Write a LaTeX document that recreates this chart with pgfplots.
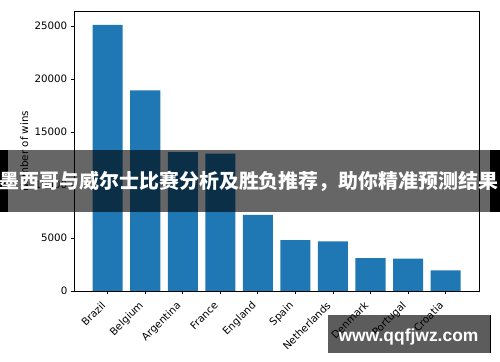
\documentclass[border=0pt]{standalone}
\usepackage{pgfplots}
\pgfplotsset{compat=1.18}
\usepackage{fontspec}
\setmainfont{DejaVu Sans}
\newfontfamily\cjk{Noto Sans CJK SC}
\newfontfamily\wm{Liberation Sans}
\definecolor{mplblue}{RGB}{31,119,180}
\begin{document}
\begin{tikzpicture}
\path[use as bounding box] (0,0) rectangle (500bp,362bp);
\begin{axis}[
  at={(74.3bp,71bp)}, anchor=south west,
  scale only axis, width=404.7bp, height=279.3bp,
  xmin=-0.89, xmax=9.89, ymin=0, ymax=26350,
  xtick={0,1,2,3,4,5,6,7,8,9},
  xticklabels={Brazil,Belgium,Argentina,France,England,Spain,Netherlands,Denmark,Portugal,Croatia},
  xticklabel style={xshift=-7bp, yshift=-6bp, rotate=45, anchor=north east, inner sep=0pt, font=\fontsize{10.3}{12}\selectfont},
  ytick={0,5000,10000,15000,20000,25000},
  scaled y ticks=false,
  yticklabel style={font=\fontsize{10.3}{12}\selectfont, /pgf/number format/1000 sep={}},
  /pgf/number format/assume math mode=true,
  tick align=outside, major tick length=3.5bp,
  tick style={black, line width=0.8bp},
  axis line style={black, line width=0.8bp},
  xtick pos=bottom, ytick pos=left,
  ylabel={Number of wins},
  ylabel style={at={(axis description cs:-0.1236,0.5)}, anchor=center, font=\fontsize{10.3}{12}\selectfont},
]
\addplot[ybar, bar width=0.8, fill=mplblue, draw=none] coordinates {
  (0,25100) (1,18930) (2,13100) (3,12950) (4,7170)
  (5,4810) (6,4690) (7,3110) (8,3050) (9,1950)
};
\end{axis}
% banner overlay
\fill[black, opacity=0.6] (8bp,150bp) rectangle (490bp,212bp);
\fill[black] (0,150bp) rectangle (8bp,212bp);
\fill[black] (490bp,150bp) rectangle (500bp,212bp);
\node[white, inner sep=0pt, font=\cjk\bfseries\fontsize{20}{24}\selectfont] at (249bp,181bp) {墨西哥与威尔士比赛分析及胜负推荐，助你精准预测结果};
% watermark
\fill[black, opacity=0.64] (328bp,9.3bp) rectangle (490.7bp,47bp);
\draw[black, line width=1bp] (490.2bp,9.3bp) -- (490.2bp,47bp);
\node[white, inner sep=0pt, font=\wm\bfseries\fontsize{17.5}{20}\selectfont] at (408.5bp,25.3bp) {www.qqfjwz.com};
\end{tikzpicture}
\end{document}
